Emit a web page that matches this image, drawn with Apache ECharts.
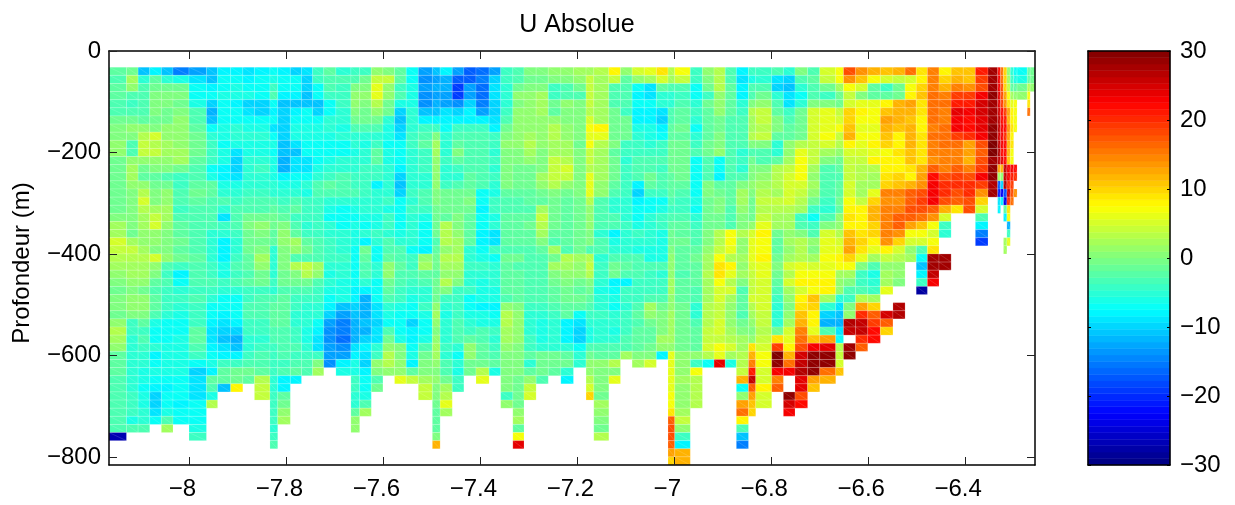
<!DOCTYPE html>
<html>
<head>
<meta charset="utf-8">
<title>U Absolue</title>
<script src="https://cdn.jsdelivr.net/npm/echarts@6/dist/echarts.min.js"></script>
<style>
  html, body { margin: 0; padding: 0; background: #fff; }
  #chart { width: 1235px; height: 505px; }
</style>
</head>
<body>
<div id="chart"></div>
<script>
const _ = null;

// longitude edges of the stations (they are not regular)
const lonEdges = [
  -8.166, -8.130, -8.106, -8.082, -8.058, -8.034, -8.001, -7.965, -7.942, -7.915, -7.890, -7.866,
  -7.834, -7.818, -7.792, -7.769, -7.746, -7.723, -7.698, -7.667, -7.649, -7.625, -7.601, -7.577,
  -7.553, -7.528, -7.499, -7.483, -7.458, -7.434, -7.409, -7.382, -7.358, -7.333, -7.310, -7.285,
  -7.260, -7.234, -7.208, -7.182, -7.166, -7.135, -7.111, -7.087, -7.062, -7.037, -7.013, -6.999,
  -6.967, -6.942, -6.918, -6.895, -6.872, -6.847, -6.832, -6.799, -6.775, -6.751, -6.725, -6.700,
  -6.667, -6.651, -6.626, -6.601, -6.575, -6.549, -6.524, -6.501, -6.478, -6.454, -6.429, -6.404,
  -6.379, -6.353, -6.333, -6.327, -6.321, -6.314, -6.307, -6.300, -6.293, -6.272, -6.266, -6.256
];

// depth edges of the bins (m)
const depthEdges = [
  -32, -48, -64, -80, -96, -112, -128, -144, -160, -176, -192, -208, -224, -240, -256, -272, -288,
  -304, -320, -336, -352, -368, -384, -400, -416, -432, -448, -464, -480, -496, -512, -528, -544,
  -560, -576, -592, -608, -624, -640, -656, -672, -688, -704, -720, -736, -752, -768, -784, -800, -816
];

// U (cm/s), one line per depth bin, west part of the section
const uWest = [
  [-2,-1,-11,-8,-11,-15,-13,-11,-8,-8,-9,-8,-7,-8,-10,-9,-4,-2,-5,-4,-4,1,0,-2,-7],
  [-3,2,-5,-2,-5,-6,-9,-11,-7,-7,-8,-7,-6,-7,-7,-10,-4,-3,-3,-3,-1,4,4,-2,-7],
  [-2,1,-3,-1,-1,-1,-7,-8,-7,-6,-7,-7,-4,-7,-7,-10,-7,-3,-4,0,0,6,1,-4,-6],
  [-2,-3,-3,0,0,0,-7,-7,-6,-6,-6,-7,-3,-8,-8,-11,-7,-4,-4,1,1,6,1,-3,-6],
  [-3,-4,-3,0,0,-1,-6,-10,-7,-8,-10,-10,-7,-11,-11,-11,-11,-7,-4,1,0,3,-1,-6,-6],
  [-3,-3,-3,0,-1,0,-3,-12,-7,-7,-9,-10,-8,-10,-8,-7,-10,-7,-5,0,-1,1,-1,-10,-5],
  [-1,-1,-2,-1,-1,1,-3,-11,-7,-7,-7,-7,-7,-10,-7,-7,-7,-5,-5,-1,-1,-1,-5,-11,-5],
  [0,1,1,0,1,1,-2,-7,-6,-5,-6,-6,-9,-10,-6,-6,-6,-5,-6,-3,-3,-3,-6,-10,-5],
  [0,0,3,5,1,1,-1,-5,-6,-5,-5,-5,-7,-10,-6,-6,-6,-6,-5,-5,-5,-5,-6,-9,-4],
  [1,-3,4,3,2,1,-1,-4,-7,-6,-6,-6,-6,-11,-9,-7,-7,-7,-7,-5,-6,-4,-7,-7,-4],
  [1,-3,4,4,2,2,-1,-4,-6,-9,-6,-6,-7,-11,-11,-7,-7,-7,-7,-6,-5,-2,-6,-7,-5],
  [-1,1,1,1,1,2,-2,-4,-6,-10,-5,-5,-6,-12,-9,-9,-7,-6,-5,-5,-5,-2,-6,-7,-5],
  [-1,2,-1,0,0,-1,-3,-7,-8,-10,-5,-4,-6,-12,-9,-9,-6,-5,-5,-5,-4,-4,-5,-8,-5],
  [-1,2,-2,-2,-3,-4,-3,-6,-8,-9,-5,-5,-6,-8,-7,-7,-5,-4,-3,-4,-4,-4,-5,-10,-5],
  [-1,1,1,-1,-1,-4,-2,-2,-6,-6,-5,-5,-5,-6,-6,-5,-3,-2,-3,-4,-4,-8,-5,-11,-5],
  [-1,0,3,0,1,-3,-1,-2,-5,-5,-4,-4,-5,-5,-5,-6,-3,-3,-3,-3,-4,-5,-5,-10,-4],
  [-1,0,5,0,1,-3,-2,-3,-3,-4,-3,-3,-3,-4,-3,-4,-4,-5,-5,-5,-5,-5,-4,-7,-5],
  [-1,0,3,2,2,-4,-3,-3,-5,-3,-3,-3,-2,-3,-2,-4,-4,-6,-7,-6,-5,-5,-6,-7,-4],
  [0,0,2,4,2,-3,-3,-3,-9,-3,-1,-1,-1,-2,-4,-4,-4,-7,-7,-7,-6,-6,-4,-7,-5],
  [2,0,2,5,1,-2,-3,-3,-4,-3,0,1,-1,0,-3,-5,-4,-5,-7,-6,-7,-6,-4,-7,-5],
  [2,-1,1,1,0,-2,-3,-5,-5,-4,-1,0,-2,1,-2,-4,-4,-5,-5,-6,-5,-4,-5,-6,-5],
  [5,2,1,1,0,-1,-3,-5,-8,-5,-1,-1,-2,1,2,-2,-3,-4,-5,-6,-8,-5,-3,-5,-5],
  [4,4,2,0,0,-2,-3,-5,-8,-5,-1,0,-5,0,1,-1,-3,-4,-5,-7,-1,-7,-3,-3,-7],
  [3,3,3,5,1,-1,-2,-5,-8,-4,-2,2,-5,0,-3,-3,-3,-4,-4,-7,-2,-7,-2,-3,-4],
  [2,2,2,1,-3,-4,-3,-4,-6,-3,-2,1,-5,0,3,4,2,-5,-5,-7,-3,-5,1,-2,-4],
  [1,2,2,0,-4,-8,-3,-4,-6,-4,-3,-1,-5,-1,0,3,1,-6,-5,-7,-3,-5,1,-3,-3],
  [0,1,1,-2,-3,-7,-3,-3,-4,-3,-2,-1,-4,-1,-1,-1,-3,-5,-6,-7,-5,-7,-1,-3,-4],
  [-1,0,-1,-3,-4,-5,-4,-4,-5,-5,-4,-4,-5,-3,-3,-3,-4,-6,-6,-8,-8,-7,-2,-4,-5],
  [0,1,1,-2,-4,-4,-3,-5,-7,-7,-4,-3,-3,-2,-4,-4,-4,-7,-6,-8,-12,-7,-3,-4,-6],
  [0,1,1,-2,-4,-5,-4,-7,-7,-7,-3,-3,-2,-2,-4,-5,-5,-8,-11,-10,-12,-9,-5,-6,-7],
  [-1,0,0,-3,-5,-6,-4,-7,-8,-7,-3,-3,-2,-2,-5,-5,-5,-10,-13,-11,-12,-9,-6,-7,-7],
  [1,-4,-2,-6,-7,-7,-4,-8,-9,-8,-4,-4,-2,-2,-5,-5,-7,-13,-15,-12,-11,-10,-7,-7,-10],
  [3,-4,-4,-7,-7,-7,-2,-9,-10,-10,-4,-4,-3,-3,-4,-6,-8,-14,-15,-12,-12,-9,-3,-7,-8],
  [2,-5,-3,-7,-7,-6,-2,-9,-11,-12,-5,-5,-3,-3,-4,-6,-9,-14,-16,-12,-10,-9,-1,-6,-8],
  [1,-5,-4,-5,-6,-6,-3,-8,-9,-11,-5,-4,-4,-3,-3,-5,-9,-13,-14,-9,-8,-5,1,0,-7],
  [-2,-5,-5,-8,-6,-6,-4,-7,-8,-8,-4,-3,-4,-3,-4,-4,-4,-13,-13,-8,-9,-4,3,0,-6],
  [-2,-5,-5,-7,-6,-6,-7,-6,-4,-4,-3,-3,-4,-4,-3,-3,0,-14,-8,-6,-10,1,3,1,-8],
  [-2,-5,-6,-6,-6,-6,-10,-8,-2,-1,-1,-2,-4,-3,-2,-3,2,_,-6,-6,-8,0,1,1,-2],
  [-3,-5,-6,-7,-7,-7,-9,-2,-2,-1,-2,3,-5,-8,-8,_,_,_,_,-4,-7,-3,_,6,4],
  [-3,-5,-7,-8,-8,-7,-9,-3,-11,8,_,4,-5,-8,_,_,_,_,_,-4,-7,-1],
  [-3,-4,-6,-10,-7,-7,-9,-6,_,_,_,4,-4,-2,_,_,_,_,_,-5,-6],
  [-3,-4,-6,-10,-7,-8,-7,3,_,_,_,_,-4,-1,_,_,_,_,_,-5,-3],
  [-3,-4,-5,-9,-6,-7,-7,_,_,_,_,_,-4,1,_,_,_,_,_,-2,2],
  [-3,-6,-5,-7,-3,-7,-7,_,_,_,_,_,-4,2,_,_,_,_,_,1],
  [-3,-3,-3,_,2,_,-6,_,_,_,_,_,-5,_,_,_,_,_,_,1],
  [-27,_,_,_,_,_,-4,_,_,_,_,_,-4],
  [_,_,_,_,_,_,_,_,_,_,_,_,-3],
  [],
  []
];

// centre part of the section
const uCentre = [
  [-13,-11,-8,-13,-17,-16,-13,-4,-3,0,0,1,1,2,2,3,8,1,5,6,9,3,7,-4,1,3,-3],
  [-14,-13,-12,-17,-17,-15,-10,-4,-3,-1,-1,0,0,1,4,2,4,-2,1,2,5,2,4,-4,0,3,-3],
  [-13,-12,-12,-19,-13,-16,-9,-5,-1,0,0,-4,-3,-1,4,2,-3,-3,-7,-9,-2,-3,-3,-7,-1,3,-2],
  [-14,-13,-13,-19,-13,-16,-9,-5,1,1,2,-4,-3,-3,4,2,-3,-3,-8,-9,-5,-5,-4,-7,-4,1,-2],
  [-14,-12,-13,-14,-10,-15,-10,-5,0,1,2,-1,1,0,4,2,-3,-3,-7,-7,-5,-5,-3,-5,-1,1,-2],
  [-11,-11,-9,-10,-8,-13,-10,-4,1,1,2,-2,0,0,3,2,-1,-4,-8,-8,-9,-3,-2,-4,-2,1,-2],
  [-8,-8,-8,-8,-8,-8,-9,-3,1,1,1,1,0,0,5,2,-1,-1,-8,-8,-10,-3,-2,-5,-2,-1,-3],
  [-4,-4,-7,-4,-4,-4,-8,-1,1,1,1,3,1,0,7,8,-1,-1,-6,-6,-8,-2,-1,-7,-2,-1,-3],
  [-3,0,-5,-3,-3,-3,-4,0,1,2,1,3,1,0,6,6,-1,-1,-5,-6,-7,-2,-2,-5,-2,0,-3],
  [-2,2,-5,-2,-3,-3,-4,1,1,3,1,2,2,-1,7,3,0,-4,-4,-5,-4,-1,-1,-4,-1,0,-3],
  [-4,2,-5,0,-3,-3,-5,0,0,2,0,2,2,0,4,2,-2,-4,-4,-4,-4,-1,-1,-3,-1,1,-3],
  [-4,1,-4,-2,-3,-3,-4,0,0,1,0,4,3,0,4,2,-1,-5,-3,-3,-3,-1,-1,-7,-3,-7,-3],
  [-4,1,-5,-4,-3,-3,-5,0,-1,-1,0,4,5,0,3,2,-1,-4,-3,-3,-4,-1,-1,-7,-3,-7,-3],
  [-5,1,-5,-5,-2,-3,-4,0,-1,-1,2,4,4,0,6,2,-1,-4,-3,-1,-3,-2,-1,-7,-3,-8,-3],
  [-5,1,-4,-3,-2,-3,-5,0,-1,-1,1,3,1,0,6,1,-2,-4,-8,-2,-3,-2,-2,-7,0,-2,-2],
  [-3,0,-1,-1,-1,-7,-6,-2,-2,-2,-1,0,-1,0,6,1,-3,-4,-10,-4,-4,-2,-3,-7,0,-1,-2],
  [-3,0,-1,-1,0,-7,-4,-3,-3,-2,-2,-1,-2,-1,3,-3,-5,-5,-8,-7,-7,-3,-4,-6,-1,0,-2],
  [-4,-1,-1,-1,-1,-8,-4,-3,-3,-3,2,-1,-2,-1,1,-3,-5,-5,-7,-7,-6,-4,-4,-7,-1,0,-3],
  [-6,-1,-2,0,-2,-7,-6,-2,-2,-2,4,-1,-2,-1,1,-3,-3,-5,-7,-5,-4,-3,-3,-5,-1,-1,-3],
  [-7,-1,3,0,-2,-7,-5,-2,-2,-1,3,-1,-2,-1,1,-3,-3,-4,-6,-5,-4,-2,-2,-4,-1,-1,-3],
  [-7,-1,3,1,-2,-8,-9,-2,-2,-2,2,-2,-2,-1,0,-5,-8,-5,-4,-5,-6,-1,-2,-3,0,3,7],
  [-7,-3,3,2,-2,-8,-9,-2,-2,-2,0,-3,-2,-1,0,-3,-6,-5,-5,-5,-6,-1,-1,-3,0,3,7],
  [-8,-2,1,2,-5,-7,-4,-3,-3,-3,-2,2,-3,-1,-3,-3,-5,-5,-6,-6,-6,0,-2,-2,1,4,6],
  [1,-1,3,3,-5,-6,-7,-1,-1,-3,-3,-1,3,2,3,-5,-3,-3,-3,-6,-6,1,-2,-1,2,7,3],
  [2,-1,2,2,-4,-4,-5,-2,-3,-3,-3,2,2,1,4,-4,-1,-2,-3,-3,-3,1,-2,-2,2,9,8],
  [-2,-2,1,1,-5,-5,-5,-2,-2,-3,-3,0,1,1,3,-4,-1,-3,-3,-4,-5,1,-3,-2,3,9,6],
  [-3,-1,3,0,-5,-6,-5,-2,-2,-3,-3,-1,0,-1,0,-5,-8,-8,-4,-4,-4,2,-2,-2,2,7,3],
  [-5,-1,0,-4,-4,-6,-6,-2,-2,-3,-3,-2,-1,-2,-1,-6,-7,-4,-4,-4,-4,2,-2,-3,2,5,5],
  [-5,-1,-4,-4,-7,-6,-6,-3,-2,-3,-3,-2,-1,-1,-2,-5,-6,-4,-4,-3,-3,1,-2,-3,2,5,2],
  [-4,1,-5,-4,-7,-8,-8,1,0,-4,-4,-3,-2,-2,-3,-5,-7,-5,-3,2,-1,1,-1,-5,3,4,1],
  [-6,2,-6,-4,-6,-6,-7,3,1,-5,-5,-4,-2,-7,-4,-4,-5,-4,-2,1,0,2,-1,-5,3,4,1],
  [-7,1,-5,-3,-5,-6,-6,3,1,-5,-6,-5,-8,-9,-5,-5,-5,-4,-3,-1,0,2,-1,-3,3,5,1],
  [-7,0,-5,-3,-4,-3,-4,2,1,-5,-6,-5,-8,-10,-6,-5,-6,-4,-2,-2,0,2,-1,-2,4,5,2],
  [-6,1,-5,-3,-2,-3,-5,2,1,-4,-6,-5,-8,-10,-6,-5,-5,-3,-2,-2,2,2,-1,-2,4,4,3],
  [-3,2,-4,-5,1,-2,-4,1,0,-4,-5,-5,-5,-7,-3,-3,-3,-3,-2,-1,1,1,-1,-2,5,7,5],
  [-1,2,-5,-7,1,-2,-3,0,0,-2,-1,-1,-2,-5,-1,-2,-2,2,0,0,-8,6,1,1,3,6,2],
  [0,1,-3,-5,-1,-1,-2,0,0,-5,-1,-1,-1,-5,1,1,3,_,2,5,_,6,1,-4,-7,24,-6],
  [0,0,-3,-6,-1,3,-6,0,0,-2,-1,-2,-5,_,1,0,0,_,_,_,_,6,1,7],
  [2,1,-1,-4,_,6,_,0,-1,1,-3,_,-8,_,3,0,6,_,_,_,_,6,2,3],
  [4,0,2,-4,_,_,_,0,-1,4,_,_,_,_,5,0,_,_,_,_,_,6,1,3],
  [4,0,3,_,_,_,_,-4,-1,5,_,_,_,_,10,-1,_,_,_,_,_,7,1,3],
  [_,-1,6,_,_,_,_,1,-1,_,_,_,_,_,_,2,_,_,_,_,_,7,1,3],
  [_,-2,2,_,_,_,_,_,1,_,_,_,_,_,_,1,_,_,_,_,_,9,2],
  [_,-2,_,_,_,_,_,_,2,_,_,_,_,_,_,0,_,_,_,_,_,17,4],
  [_,-2,_,_,_,_,_,_,-2,_,_,_,_,_,_,-1,_,_,_,_,_,18,1],
  [_,0,_,_,_,_,_,_,7,_,_,_,_,_,_,3,_,_,_,_,_,18,-4],
  [_,12,_,_,_,_,_,_,24,_,_,_,_,_,_,_,_,_,_,_,_,17,-8],
  [_,_,_,_,_,_,_,_,_,_,_,_,_,_,_,_,_,_,_,_,_,13,12],
  [_,_,_,_,_,_,_,_,_,_,_,_,_,_,_,_,_,_,_,_,_,10,12]
];

// east part, up the slope
const uEast = [
  [-8,-4,-4,-3,-5,0,-3,5,7,18,14,12,11,12,16,9,15,8,11,11,21,28,22,16,10,1,-5,-7,-7,-2,-1],
  [-9,-6,-5,-9,-10,-3,-2,4,7,14,11,7,5,4,5,8,15,10,12,11,19,28,23,16,10,2,-4,-6,-6,-2,-1],
  [-8,-3,-3,-10,-11,-5,-3,-1,2,7,5,-2,-4,-1,7,10,15,12,15,14,18,28,23,18,10,4,-2,-2,-1,3,1],
  [-8,-3,-1,-5,-9,-7,-3,-4,-1,4,0,-2,-2,-1,8,11,16,15,19,19,23,29,24,18,13,7,2,1,1,7],
  [-5,0,1,-3,-9,-5,0,0,-1,5,6,6,8,12,13,9,16,16,21,21,25,28,24,19,14,9,6,7,_,9],
  [-4,3,4,-2,-4,-1,5,6,4,10,8,7,11,12,12,9,16,15,24,23,25,28,25,22,19,13,8,7,_,16],
  [-3,2,4,0,-3,-1,5,6,5,10,7,7,13,12,11,8,16,15,23,22,24,28,26,22,21,12,8,7],
  [-3,2,3,0,-2,-1,5,6,7,11,6,6,12,11,12,8,15,16,23,22,24,29,26,23,22,14,9,7],
  [-3,3,4,-2,-2,-1,5,7,4,12,7,7,11,8,12,9,16,16,19,20,23,29,25,23,20,13,8],
  [-3,0,0,-5,1,3,4,5,3,8,6,8,10,8,12,9,15,16,16,13,18,30,26,23,22,12,9],
  [-5,-3,-3,-5,1,6,4,2,1,5,5,6,7,9,11,9,15,15,15,13,17,30,27,22,22,12,7],
  [-4,-1,-3,-2,2,7,4,0,-1,4,4,8,8,8,11,9,14,15,15,12,18,28,26,24,22,11,7],
  [-5,0,0,3,4,7,2,-3,-2,4,3,3,8,8,9,12,17,15,17,15,19,29,13,12,26,23,23,22],
  [-3,0,1,3,5,7,1,-3,-3,4,3,2,9,10,8,13,22,18,19,18,23,29,2,1,26,23,21,20],
  [0,1,2,3,5,5,2,-3,-2,5,2,2,10,11,12,14,23,20,20,20,19,27,-17,-10,27,20,19],
  [2,0,3,2,5,4,1,-3,-2,5,2,6,15,15,17,18,23,20,18,20,14,28,-21,-23,-18,25,18,14],
  [2,-1,4,4,5,3,-1,-4,-1,7,4,10,14,14,17,19,23,18,17,18,10,_,-9,-8,-24,20,16],
  [1,-1,3,3,3,2,-4,-5,-2,8,8,12,15,15,18,18,17,12,9,18,5,_,-8,_,-2,9],
  [0,-1,4,2,2,-4,-7,-3,1,9,8,12,15,17,17,16,14,5,_,_,-3,_,_,_,-8,7],
  [0,1,6,2,2,-3,-4,0,1,8,8,10,15,17,13,11,7,-4,_,_,-8,_,_,_,_,-12],
  [3,5,8,-1,1,0,-3,5,3,11,9,10,15,14,7,7,5,-5,_,_,-15,_,_,_,_,-4],
  [1,6,7,-2,2,3,1,6,5,12,10,8,14,10,5,5,7,_,_,_,-19,_,_,_,2,6],
  [1,6,7,-2,1,3,0,6,6,13,9,6,8,5,1,-3,9,_,_,_,_,_,_,_,2],
  [2,6,8,-1,2,3,2,7,8,10,6,2,4,3,2,-7,28,28],
  [1,5,6,0,5,6,5,6,7,7,0,-3,1,1,_,-11,28,28],
  [2,4,6,-1,3,7,7,7,2,2,-4,-6,2,1,_,-8,26],
  [0,4,5,-2,5,8,8,8,1,0,-4,-5,2,0,_,-4,23],
  [-3,4,5,-3,2,5,7,8,1,-3,-3,-4,6,_,_,-28],
  [-2,5,5,-4,1,8,11,2,-5,-4,3,2],
  [-2,3,5,-5,0,9,10,-5,-9,0,13,10,_,27],
  [-3,2,4,-5,1,11,8,-10,-11,1,20,17,25,27],
  [-1,1,4,-5,2,12,8,-12,-12,27,26,19,17],
  [0,0,3,-1,5,15,6,-3,-9,26,26,22,10],
  [2,1,4,9,6,16,11,13,-7,_,20,22],
  [2,9,5,19,8,18,23,24,3,28,17],
  [3,12,7,30,12,25,29,29,4,29],
  [3,15,7,29,16,26,29,29,5],
  [4,21,5,23,23,27,29,16,11],
  [12,26,5,15,_,24,13,12],
  [-7,17,8,17,_,24,11],
  [1,13,5,_,29,18],
  [13,11,5,_,25,22],
  [16,10,_,_,23],
  [8],
  [-3],
  [-11],
  [-15],
  [],
  []
];

const lonTicks = [-8, -7.8, -7.6, -7.4, -7.2, -7, -6.8, -6.6, -6.4];
const depthTicks = [0, -200, -400, -600, -800];
const jetStops = ['#00007f', '#0000ff', '#007fff', '#00ffff', '#7fff7f', '#ffff00', '#ff7f00', '#ff0000', '#7f0000'];

const westLen = 25;
const centreLen = 27;

// flat list of cells for the custom series
const sectionCells = [];
depthEdges.slice(0, -1).forEach(function (top, r) {
  const row = [];
  for (let i = 0; i < westLen; i++) row.push(uWest[r][i] === undefined ? null : uWest[r][i]);
  for (let i = 0; i < centreLen; i++) row.push(uCentre[r][i] === undefined ? null : uCentre[r][i]);
  uEast[r].forEach(function (v) { row.push(v); });
  row.forEach(function (v, c) {
    if (v === null) return;
    sectionCells.push([lonEdges[c], lonEdges[c + 1], top, depthEdges[r + 1], v]);
  });
});

// the 64 bands of the colour bar
const barCells = [];
for (let i = 0; i < 64; i++) {
  const low = -30 + (i * 60) / 64;
  barCells.push([0, 1, low + 60 / 64, low, low + 30 / 64]);
}

function minusSign(v) {
  return String(v).replace('-', '\u2212');
}

function drawCell(seam) {
  return function (params, api) {
    const a = api.coord([api.value(0), api.value(2)]);
    const b = api.coord([api.value(1), api.value(3)]);
    const color = api.visual('color');
    const children = [{
      type: 'rect',
      shape: { x: a[0], y: a[1], width: b[0] - a[0], height: b[1] - a[1] },
      style: { fill: color, stroke: seam ? 'rgba(255,255,255,0.16)' : color, lineWidth: seam ? 1 : 0.5 },
    }];
    if (seam) {
      children.push({
        type: 'line',
        shape: { x1: a[0], y1: a[1], x2: b[0], y2: b[1] },
        style: { stroke: 'rgba(255,255,255,0.14)', lineWidth: 1 },
      });
    }
    return { type: 'group', children: children };
  };
}

const font = 'Liberation Sans';
const frame = { show: true, onZero: false, lineStyle: { color: '#000', width: 1.5 } };
const ink = { color: '#222', width: 1 };

const option = {
  animation: false,
  backgroundColor: '#fff',
  textStyle: { fontFamily: font },
  title: {
    text: 'U Absolue',
    left: 572,
    top: 8,
    textAlign: 'center',
    textStyle: { fontFamily: font, fontSize: 25, fontWeight: 'normal', color: '#000' },
  },
  grid: [
    { left: 109, top: 51, width: 926, height: 414 },
    { left: 1088, top: 51, width: 82, height: 414 },
  ],
  xAxis: [
    {
      gridIndex: 0, type: 'value', min: -8.166, max: -6.256, position: 'bottom', z: 5,
      axisLine: frame,
      axisTick: { show: true, inside: true, length: 8, customValues: lonTicks, lineStyle: ink },
      axisLabel: {
        show: true, customValues: lonTicks, color: '#000', fontSize: 24, margin: 12,
        padding: [0, 14, 0, 0], formatter: minusSign,
      },
      splitLine: { show: false },
    },
    {
      gridIndex: 0, type: 'value', min: -8.166, max: -6.256, position: 'top', z: 5,
      axisLine: frame,
      axisTick: { show: true, inside: true, length: 8, customValues: lonTicks, lineStyle: ink },
      axisLabel: { show: false },
      splitLine: { show: false },
    },
    {
      gridIndex: 1, type: 'value', min: 0, max: 1, position: 'bottom', z: 5,
      axisLine: frame, axisTick: { show: false }, axisLabel: { show: false }, splitLine: { show: false },
    },
    {
      gridIndex: 1, type: 'value', min: 0, max: 1, position: 'top', z: 5,
      axisLine: frame, axisTick: { show: false }, axisLabel: { show: false }, splitLine: { show: false },
    },
  ],
  yAxis: [
    {
      gridIndex: 0, type: 'value', min: -816, max: 0, position: 'left', z: 5,
      name: 'Profondeur (m)', nameLocation: 'middle', nameGap: 75,
      nameTextStyle: { fontFamily: font, fontSize: 24, color: '#000', padding: [0, 10, 0, 0] },
      axisLine: frame,
      axisTick: { show: true, inside: true, length: 8, customValues: depthTicks, lineStyle: ink },
      axisLabel: { show: true, customValues: depthTicks, color: '#000', fontSize: 24, margin: 8, formatter: minusSign },
      splitLine: { show: false },
    },
    {
      gridIndex: 0, type: 'value', min: -816, max: 0, position: 'right', z: 5,
      axisLine: frame,
      axisTick: { show: true, inside: true, length: 8, customValues: depthTicks, lineStyle: ink },
      axisLabel: { show: false },
      splitLine: { show: false },
    },
    {
      gridIndex: 1, type: 'value', min: -30, max: 30, interval: 10, position: 'right', z: 5,
      axisLine: frame,
      axisTick: { show: true, inside: true, length: 3, lineStyle: { color: '#000', width: 1 } },
      axisLabel: { show: true, color: '#000', fontSize: 24, margin: 10, formatter: minusSign },
      splitLine: { show: false },
    },
    {
      gridIndex: 1, type: 'value', min: -30, max: 30, interval: 10, position: 'left', z: 5,
      axisLine: frame,
      axisTick: { show: true, inside: true, length: 3, lineStyle: { color: '#000', width: 1 } },
      axisLabel: { show: false },
      splitLine: { show: false },
    },
  ],
  visualMap: {
    show: false,
    type: 'continuous',
    min: -30,
    max: 30,
    dimension: 4,
    seriesIndex: [0, 1],
    inRange: { color: jetStops },
  },
  series: [
    {
      type: 'custom',
      xAxisIndex: 0,
      yAxisIndex: 0,
      renderItem: drawCell(true),
      data: sectionCells,
      silent: true,
    },
    {
      type: 'custom',
      xAxisIndex: 2,
      yAxisIndex: 2,
      renderItem: drawCell(false),
      data: barCells,
      silent: true,
    },
  ],
};

const chart = echarts.init(document.getElementById('chart'), null, { renderer: 'canvas' });
chart.setOption(option);
</script>
</body>
</html>
